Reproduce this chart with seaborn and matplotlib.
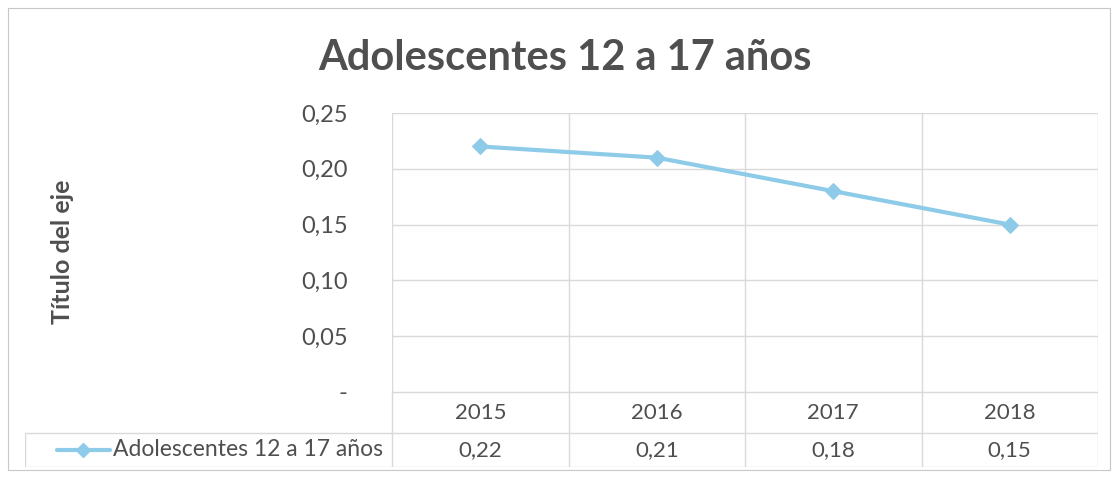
import numpy as np
import pandas as pd
import matplotlib
matplotlib.use("Agg")
import matplotlib.pyplot as plt
from matplotlib.patches import Rectangle
from matplotlib.lines import Line2D
import seaborn as sns

# data
years = ["2015", "2016", "2017", "2018"]
values = [0.22, 0.21, 0.18, 0.15]
series_name = "Adolescentes 12 a 17 años"
title = "Adolescentes 12 a 17 años"
y_label = "Título del eje"
y_ticks = [0.0, 0.05, 0.10, 0.15, 0.20, 0.25]

sns.set_style("white")
plt.rcParams['font.family'] = ['Lato', 'DejaVu Sans']

line_col = "#8dcbe9"
grid_col = "#d9d9d9"
text_col = "#4f4f4f"

W, H = 1114, 478
fig = plt.figure(figsize=(W / 100, H / 100), dpi=100)
fig.patch.set_facecolor("white")

def fx(px):
    return px / W

def fy(py):
    return 1 - py / H

# chart border
fig.add_artist(Rectangle((fx(8), fy(470)), fx(1110) - fx(8), fy(8) - fy(470),
                         transform=fig.transFigure, fill=False, edgecolor="#c8c8c8", lw=0.8))

# plot area
left, right, top, bottom = 392, 1098, 113, 392
ax = fig.add_axes([fx(left), fy(bottom), fx(right) - fx(left), fy(top) - fy(bottom)])
df = pd.DataFrame({"year": years, "value": values})
df["x"] = np.arange(len(years))
sns.lineplot(data=df, x="x", y="value", ax=ax, color=line_col, lw=3,
             marker="D", markersize=8, markeredgecolor=line_col)
ax.set_xlim(-0.5, len(years) - 0.5)
ax.set_ylim(0, 0.25)
ax.set_yticks(y_ticks)
ax.set_yticklabels(["-"] + [f"{t:.2f}".replace(".", ",") for t in y_ticks[1:]],
                   fontsize=17, color=text_col)
ax.tick_params(axis="y", length=0, pad=32)
ax.set_xticks([])
ax.set_xlabel("")
ax.set_ylabel("")
for t in y_ticks:
    ax.axhline(t, color=grid_col, lw=1, zorder=0)
for i in range(len(years) + 1):
    ax.axvline(i - 0.5, color=grid_col, lw=1, zorder=0)
for s in ax.spines.values():
    s.set_visible(False)

fig.text(fx(62), fy(252), y_label, rotation=90, ha="center", va="center",
         fontsize=18, fontweight="bold", color=text_col)
fig.text(fx(565), fy(58), title, ha="center", va="center",
         fontsize=30, fontweight="bold", color=text_col)

# data table below
tleft, tbottom = 25, 467
cat_w = (right - left) / len(years)
tax = fig.add_axes([fx(tleft), fy(tbottom), fx(right) - fx(tleft), fy(bottom) - fy(tbottom)])
x0 = -0.5 - (left - tleft) / cat_w
tax.set_xlim(x0, len(years) - 0.5)
tax.set_ylim(0, 2)
tax.axis("off")
row_mid = 0.92
tax.plot([-0.5, len(years) - 0.5], [2, 2], color=grid_col, lw=1)
tax.plot([x0, len(years) - 0.5], [row_mid, row_mid], color=grid_col, lw=1)
tax.plot([x0, len(years) - 0.5], [0, 0], color=grid_col, lw=1)
tax.plot([x0, x0], [0, row_mid], color=grid_col, lw=1)
for i in range(len(years) + 1):
    tax.plot([i - 0.5, i - 0.5], [0, 2], color=grid_col, lw=1)
for i, (yr, v) in enumerate(zip(years, values)):
    tax.text(i, 1.45, yr, ha="center", va="center", fontsize=16, color=text_col)
    tax.text(i, row_mid / 2, f"{v:.2f}".replace(".", ","), ha="center", va="center",
             fontsize=16, color=text_col)
# legend key inside the table
tax.add_line(Line2D([x0 + 0.18, x0 + 0.48], [row_mid / 2] * 2, color=line_col, lw=3))
tax.plot([x0 + 0.33], [row_mid / 2], marker="D", color=line_col, markersize=7)
tax.text(x0 + 0.5, row_mid / 2, series_name, ha="left", va="center", fontsize=16.5, color=text_col)

fig.savefig("out.png", dpi=100)
